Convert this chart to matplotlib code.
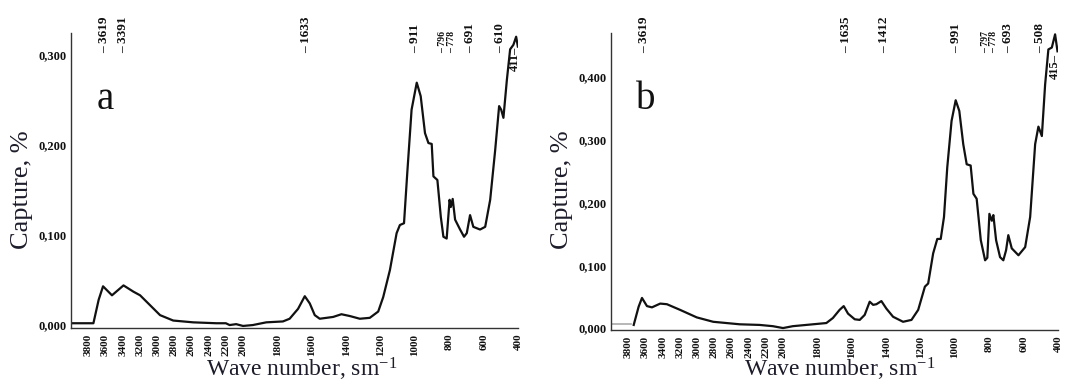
"""
IR spectra of two samples (a, b), recreated as a two-panel matplotlib figure.
Writes out.png (1088x385).
"""

import numpy as np
import matplotlib
matplotlib.use("Agg")
import matplotlib.pyplot as plt
import matplotlib.transforms as mtransforms

plt.rcParams["font.family"] = ["Liberation Serif", "DejaVu Serif"]
plt.rcParams["mathtext.default"] = "regular"

INK = "#111111"

# --- data ----------------------------------------------------------------
wave_a = [3990, 3740, 3679, 3628, 3524, 3390, 3274, 3197, 3081, 2965, 2812,
          2580, 2310, 2200, 2156, 2080, 2000, 1943, 1865, 1768, 1729, 1680,
          1641, 1612, 1583, 1554, 1476, 1428, 1379, 1321, 1263, 1214, 1185,
          1146, 1107, 1088, 1064, 1045, 1020, 990, 967, 942, 922, 903, 893,
          870, 850, 835, 816, 799, 792, 781, 767, 738, 715, 699, 680, 661,
          622, 592, 563, 534, 511, 499, 486, 466, 447, 428, 412, 402]
capt_a = [0.002, 0.002, 0.028, 0.043, 0.033, 0.044, 0.037, 0.033, 0.022,
          0.011, 0.005, 0.003, 0.002, 0.002, 0.000, 0.001, -0.001, 0.000,
          0.003, 0.004, 0.007, 0.018, 0.032, 0.024, 0.011, 0.007, 0.009,
          0.012, 0.010, 0.007, 0.008, 0.015, 0.031, 0.061, 0.102, 0.111,
          0.113, 0.169, 0.239, 0.269, 0.254, 0.213, 0.202, 0.201, 0.165,
          0.161, 0.120, 0.098, 0.096, 0.139, 0.131, 0.140, 0.117, 0.106,
          0.098, 0.102, 0.122, 0.109, 0.106, 0.109, 0.139, 0.194, 0.243,
          0.239, 0.230, 0.272, 0.306, 0.311, 0.320, 0.309]

wave_b = [3736, 3679, 3640, 3582, 3524, 3428, 3350, 3197, 3003, 2812, 2503,
          2272, 2118, 2000, 1943, 1826, 1748, 1710, 1671, 1647, 1622, 1583,
          1554, 1525, 1496, 1476, 1457, 1428, 1399, 1360, 1302, 1253, 1214,
          1175, 1156, 1127, 1103, 1083, 1064, 1045, 1020, 996, 975, 952, 932,
          909, 893, 874, 850, 825, 812, 800, 786, 777, 761, 738, 719, 703,
          690, 670, 631, 592, 563, 534, 515, 495, 476, 457, 437, 418, 404]
capt_b = [0.005, 0.034, 0.048, 0.035, 0.033, 0.039, 0.038, 0.029, 0.017,
          0.010, 0.006, 0.005, 0.003, 0.000, 0.003, 0.006, 0.008, 0.016,
          0.029, 0.035, 0.023, 0.014, 0.013, 0.021, 0.042, 0.037, 0.038,
          0.043, 0.031, 0.018, 0.010, 0.013, 0.029, 0.066, 0.071, 0.119,
          0.142, 0.142, 0.177, 0.256, 0.330, 0.363, 0.346, 0.293, 0.261,
          0.259, 0.214, 0.206, 0.140, 0.108, 0.112, 0.182, 0.171, 0.180,
          0.140, 0.113, 0.108, 0.124, 0.148, 0.127, 0.116, 0.129, 0.177,
          0.293, 0.321, 0.306, 0.388, 0.444, 0.447, 0.468, 0.441]

x_ticks = [3800, 3600, 3400, 3200, 3000, 2800, 2600, 2400, 2200, 2000,
           1800, 1600, 1400, 1200, 1000, 800, 600, 400]
y_ticks_a = [0.0, 0.1, 0.2, 0.3]
y_ticks_b = [0.0, 0.1, 0.2, 0.3, 0.4]

peaks_a = ["3619", "3391", "1633", "911", "796", "778", "691", "610"]
peak_pos_a = [3619, 3391, 1633, 1000, 840, 786, 680, 504]
peaks_b = ["3619", "1635", "1412", "991", "797", "778", "693", "508"]
peak_pos_b = [3619, 1635, 1412, 991, 825, 778, 693, 508]


# wavenumber axis: above 2000 cm-1 drawn at half scale
def fwd(w):
    w = np.asarray(w, dtype=float)
    return np.where(w > 2000, 2000 + (w - 2000) / 2, w)


def inv(u):
    u = np.asarray(u, dtype=float)
    return np.where(u > 2000, 2000 + (u - 2000) * 2, u)


def draw_panel(ax, wave, capt, yticks, ylim, peaks, peak_pos, letter,
               end_label, end_pos, end_y):
    ax.plot(wave, capt, color=INK, lw=1.6, solid_joinstyle="round")
    ax.set_xscale("function", functions=(fwd, inv))
    ax.set_xlim(4000, 400)
    ax.set_ylim(*ylim)

    ax.set_xticks(x_ticks)
    ax.set_xticklabels([str(t) for t in x_ticks], rotation=90,
                       fontsize=8, fontweight="bold")
    ax.set_yticks(yticks)
    ax.set_yticklabels([f"{v:.3f}".replace(".", ",") for v in yticks],
                       fontsize=9, fontweight="bold")
    ax.tick_params(axis="x", length=0, pad=4, colors=INK)
    ax.tick_params(axis="y", length=0, pad=3, colors=INK)
    ax.minorticks_off()

    for side in ("top", "right"):
        ax.spines[side].set_visible(False)
    for side in ("left", "bottom"):
        ax.spines[side].set_color("#333333")
        ax.spines[side].set_linewidth(1.0)

    trans = mtransforms.blended_transform_factory(ax.transData, ax.transAxes)
    for name, pos in zip(peaks, peak_pos):
        small = name in ("796", "778", "797")
        ax.text(pos, 0.932, "– " + name, transform=trans, rotation=90,
                ha="center", va="bottom", fontsize=7 if small else 9.5,
                fontweight="bold", color=INK, clip_on=False)
    ax.text(end_pos, end_y, end_label, transform=trans, rotation=90,
            ha="center", va="bottom", fontsize=9, fontweight="bold",
            color=INK, clip_on=False)

    ax.text(0.077, 0.775, letter, transform=ax.transAxes, fontsize=28,
            ha="center", va="center", color=INK)


fig = plt.figure(figsize=(10.88, 3.85), dpi=100)
fig.set_facecolor("white")

ax_a = fig.add_axes([0.0653, 0.148, 0.411, 0.766])
ax_b = fig.add_axes([0.5616, 0.143, 0.411, 0.771])

draw_panel(ax_a, wave_a, capt_a, y_ticks_a, (-0.0033, 0.324), peaks_a,
           peak_pos_a, "a", "411–", 418, 0.87)
draw_panel(ax_b, wave_b, capt_b, y_ticks_b, (-0.003, 0.470), peaks_b,
           peak_pos_b, "b", "415–", 418, 0.845)

# faint baseline stub left of spectrum b
ax_b.plot([4000, 3770], [0.007, 0.007], color="#aaaaaa", lw=1.2)

for cx in (22 / 1088, 562 / 1088):
    fig.text(cx, 1 - 190 / 385, "Capture, %", rotation=90, ha="center",
             va="center", fontsize=19, color="#1c1c2a")
for cx in (302 / 1088, 840 / 1088):
    fig.text(cx, 2 / 385, "Wave number, sm$^{-1}$", ha="center",
             va="bottom", fontsize=17, color="#1c1c2a")

fig.savefig("out.png", dpi=100, facecolor="white")
